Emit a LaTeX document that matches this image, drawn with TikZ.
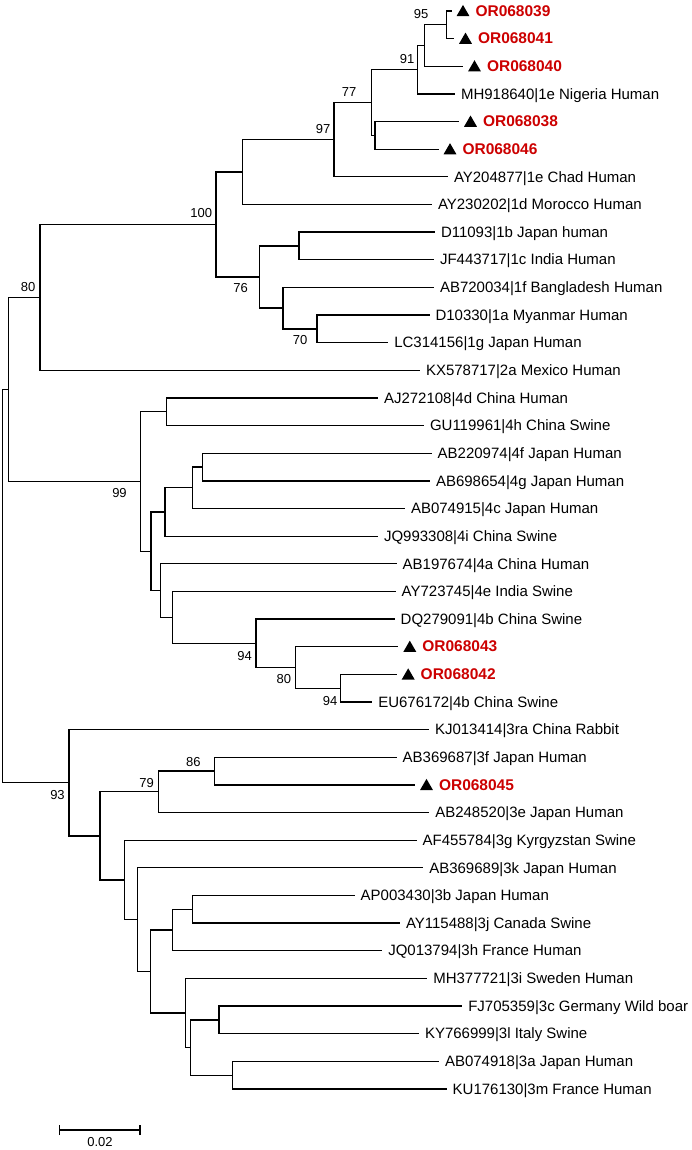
\documentclass[tikz,border=0pt]{standalone}
\usepackage{fontspec}
\setmainfont{Liberation Sans}
\usetikzlibrary{shapes.geometric}
\definecolor{isored}{RGB}{204,0,0}
\begin{document}
\begin{tikzpicture}[x=1pt,y=-1pt,
  declare function={R(\r)=11+27.64*\r;},
  br/.style={line width=1.3pt},
  leaflab/.style={anchor=base west, inner sep=0pt, outer sep=0pt, font=\fontsize{15}{18}\selectfont},
  redlab/.style={text=isored, font=\fontsize{15.5}{18}\selectfont\bfseries},
  tri/.style={regular polygon, regular polygon sides=3, fill=black, minimum size=15pt, inner sep=0pt, outer sep=0pt},
  boot/.style={inner sep=0pt, outer sep=0pt, font=\fontsize{13}{15}\selectfont}]
\useasboundingbox (0,0) rectangle (692,1150);
% normal leaves
\foreach \i/\t/\s in {
 3/455/MH918640|1e Nigeria Human,
 6/448/AY204877|1e Chad Human,
 7/432/AY230202|1d Morocco Human,
 8/435/D11093|1b Japan human,
 9/434/JF443717|1c India Human,
 10/434/AB720034|1f Bangladesh Human,
 11/429.5/D10330|1a Myanmar Human,
 12/388.3/LC314156|1g Japan Human,
 13/420/KX578717|2a Mexico Human,
 14/378/AJ272108|4d China Human,
 15/424/GU119961|4h China Swine,
 16/431.7/AB220974|4f Japan Human,
 17/430/AB698654|4g Japan Human,
 18/405/AB074915|4c Japan Human,
 19/378/JQ993308|4i China Swine,
 20/396.7/AB197674|4a China Human,
 21/395.7/AY723745|4e India Swine,
 22/394.7/DQ279091|4b China Swine,
 25/372.3/EU676172|4b China Swine,
 26/429/KJ013414|3ra China Rabbit,
 27/396.7/AB369687|3f Japan Human,
 29/429.3/AB248520|3e Japan Human,
 30/416.7/AF455784|3g Kyrgyzstan Swine,
 31/423.3/AB369689|3k Japan Human,
 32/354.7/AP003430|3b Japan Human,
 33/400/AY115488|3j Canada Swine,
 34/382.3/JQ013794|3h France Human,
 35/427.3/MH377721|3i Sweden Human,
 36/462.3/FJ705359|3c Germany Wild boar,
 37/419/KY766999|3l Italy Swine,
 38/439/AB074918|3a Japan Human,
 39/446.7/KU176130|3m France Human}{
  \coordinate (L\i) at (\t,{R(\i)});
  \node[leaflab] (N\i) at (\t+6,{R(\i)+5.2}) {\s};
}
% study isolates
\foreach \i/\t/\s in {
 0/451.5/OR068039,
 1/454/OR068041,
 2/463/OR068040,
 4/459/OR068038,
 5/438.5/OR068046,
 23/398.3/OR068043,
 24/396.7/OR068042,
 28/415/OR068045}{
  \coordinate (L\i) at (\t,{R(\i)});
  \node[tri, anchor=corner 2] (M\i) at (\t+5,{R(\i)+5.2}) {};
  \node[leaflab, redlab] (N\i) at (\t+24,{R(\i)+5.2}) {\s};
}
% internal nodes
\foreach \n/\x/\r in {
 n95/446.7/0.5, nA/424.3/1.25, n91/417.7/2.125, nB/375/4.5, n77/371.7/3.3125,
 n97/334/4.65625, nC/242.7/5.828125, nD/299/8.5, n70/317/11.5, nE/283/10.75,
 n76/259.3/9.625, n100/216/7.7265625, n80/40/10.36328,
 nF/166.7/14.5, nG/202.3/16.5, nH/192.3/17.25, nI/165/18.125, n94b/340.7/24.5,
 n80b/295.7/23.75, n94a/256/22.875, nJ/172.3/21.9375, nK/160.7/20.96875,
 nL/151/19.546875, n99/140.7/17.0234375, nAA/8.3/13.6933,
 n86/214.3/27.5, n79/158.3/28.25, nM/192.3/32.5, nN/172.7/33.25, nO/219/36.5,
 nP/232.7/38.5, nQ/190.3/37.5, nR/185.7/36.25, nS/150.7/34.75, nT/137.7/32.875,
 nU/124.3/31.4375, nV/100/29.84375, n93/69/27.921875, root/2.7/20.8076}{
  \coordinate (\n) at (\x,{R(\r)});
}
% branches
\foreach \p/\c in {
 n95/L0, n95/L1, nA/n95, nA/L2, n91/nA, n91/L3, nB/L4, nB/L5, n77/n91, n77/nB,
 n97/n77, n97/L6, nC/n97, nC/L7, nD/L8, nD/L9, n70/L11, n70/L12, nE/L10, nE/n70,
 n76/nD, n76/nE, n100/nC, n100/n76, n80/n100, n80/L13,
 nF/L14, nF/L15, nG/L16, nG/L17, nH/nG, nH/L18, nI/nH, nI/L19,
 n94b/L24, n94b/L25, n80b/L23, n80b/n94b, n94a/L22, n94a/n80b, nJ/L21, nJ/n94a,
 nK/L20, nK/nJ, nL/nI, nL/nK, n99/nF, n99/nL, nAA/n80, nAA/n99,
 n86/L27, n86/L28, n79/n86, n79/L29, nM/L32, nM/L33, nN/nM, nN/L34,
 nO/L36, nO/L37, nP/L38, nP/L39, nQ/nO, nQ/nP, nR/L35, nR/nQ, nS/nN, nS/nR,
 nT/L31, nT/nS, nU/L30, nU/nT, nV/n79, nV/nU, n93/L26, n93/nV,
 root/nAA, root/n93}{
  \draw[br] (\p) |- (\c);
}
% bootstrap values
\node[boot] (b95) at (421,14.3) {95};
\node[boot] (b91) at (407,59.3) {91};
\node[boot] (b77) at (349,92.3) {77};
\node[boot] (b97) at (323,129.3) {97};
\node[boot] (b100) at (201.3,213.3) {100};
\node[boot] (b80) at (28.2,287.3) {80};
\node[boot] (b76) at (240.5,288.3) {76};
\node[boot] (b70) at (300,340.3) {70};
\node[boot] (b99) at (119.5,493.3) {99};
\node[boot] (b94a) at (244.5,656) {94};
\node[boot] (b80b) at (283.8,679.3) {80};
\node[boot] (b94b) at (330,700.7) {94};
\node[boot] (b86) at (193.3,761.7) {86};
\node[boot] (b79) at (146.7,782.7) {79};
\node[boot] (b93) at (57.5,795) {93};
% scale bar
\coordinate (sbL) at (59.3,1130);
\coordinate (sbR) at (140,1130);
\draw[br] (sbL) -- (sbR);
\draw[br] ([yshift=-5pt]sbL) -- ([yshift=5pt]sbL);
\draw[br] ([yshift=-5pt]sbR) -- ([yshift=5pt]sbR);
\node[boot] (sbT) at (100,1142.5) {0.02};
\end{tikzpicture}
\end{document}
